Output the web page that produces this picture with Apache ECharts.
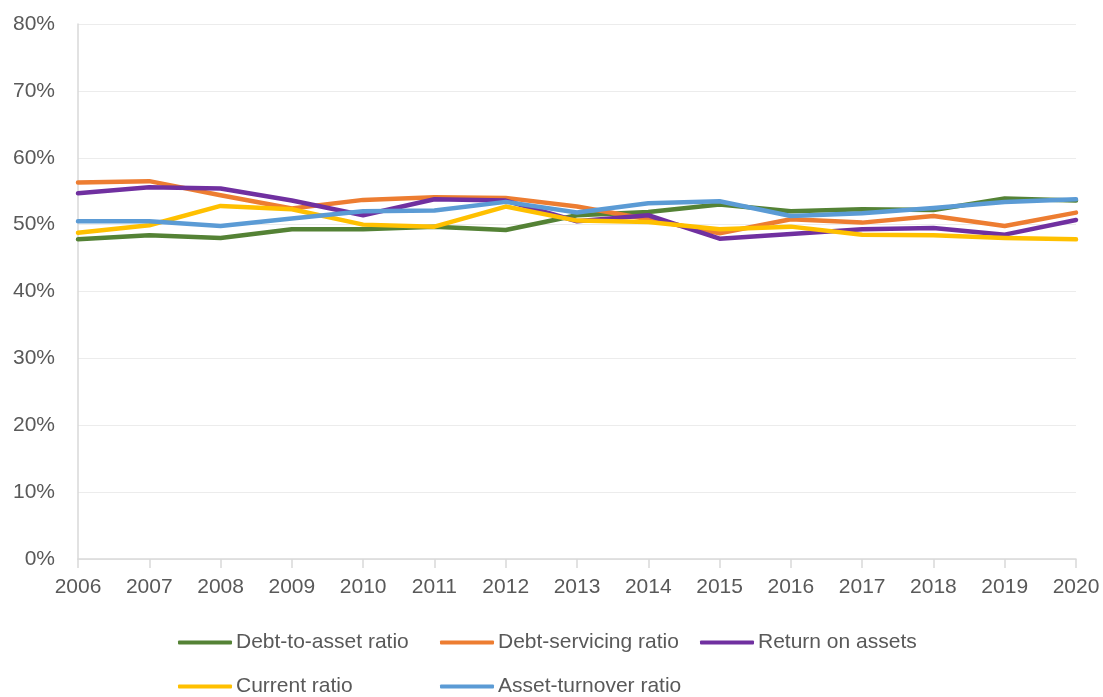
<!DOCTYPE html>
<html>
<head>
<meta charset="utf-8">
<script src="https://cdn.jsdelivr.net/npm/echarts@6/dist/echarts.min.js"></script>
<style>
  html, body { margin: 0; padding: 0; background: #fff; }
  #chart { width: 1103px; height: 697px; }
</style>
</head>
<body>
<div id="chart"></div>
<script>
// Years on the category axis
const years = ['2006','2007','2008','2009','2010','2011','2012','2013','2014','2015','2016','2017','2018','2019','2020'];

// Ratios in percent, one array per series
const debtToAsset    = [47.8, 48.4, 48.0, 49.3, 49.3, 49.7, 49.2, 51.4, 51.9, 53.0, 52.0, 52.3, 52.2, 53.9, 53.6];
const debtServicing  = [56.3, 56.5, 54.4, 52.4, 53.7, 54.1, 54.0, 52.7, 50.8, 48.7, 50.8, 50.3, 51.3, 49.8, 51.8];
const returnOnAssets = [54.7, 55.6, 55.4, 53.6, 51.4, 53.8, 53.6, 50.5, 51.4, 47.9, 48.6, 49.3, 49.5, 48.5, 50.7];
const currentRatio   = [48.8, 49.9, 52.8, 52.3, 50.0, 49.7, 52.7, 50.6, 50.4, 49.3, 49.7, 48.5, 48.4, 48.0, 47.8];
const assetTurnover  = [50.5, 50.5, 49.8, 50.9, 52.0, 52.1, 53.4, 51.8, 53.2, 53.5, 51.3, 51.7, 52.5, 53.4, 53.8];

// Y axis range and tick step, in percent
const yMin = 0, yMax = 80, yStep = 10;

const seriesDefs = [
  { name: 'Debt-to-asset ratio',  data: debtToAsset,    color: '#548235' },
  { name: 'Debt-servicing ratio', data: debtServicing,  color: '#ED7D31' },
  { name: 'Return on assets',     data: returnOnAssets, color: '#7030A0' },
  { name: 'Current ratio',        data: currentRatio,   color: '#FFC000' },
  { name: 'Asset-turnover ratio', data: assetTurnover,  color: '#5B9BD5' }
];

// Legend laid out as a two-row grid with fixed columns
const legendSlots = [
  { left: 178, top: 632 },
  { left: 440, top: 632 },
  { left: 700, top: 632 },
  { left: 178, top: 676 },
  { left: 440, top: 676 }
];

const font = '"Liberation Sans", "DejaVu Sans", sans-serif';
const textColor = '#595959';

const chart = echarts.init(document.getElementById('chart'), null, { renderer: 'canvas' });

chart.setOption({
  animation: false,
  backgroundColor: '#ffffff',
  grid: { left: 78, right: 27, top: 24, bottom: 138, containLabel: false },
  legend: seriesDefs.map((s, i) => ({
    data: [s.name],
    left: legendSlots[i].left,
    top: legendSlots[i].top,
    icon: 'roundRect',
    itemWidth: 54,
    itemHeight: 4,
    itemGap: 4,
    padding: 0,
    textStyle: { color: textColor, fontSize: 21, fontFamily: font, padding: [0, 0, 0, -1] }
  })),
  xAxis: {
    type: 'category',
    data: years,
    boundaryGap: false,
    axisLine: { show: true, lineStyle: { color: '#d9d9d9', width: 1.5 } },
    axisTick: { show: true, length: 9, alignWithLabel: true, lineStyle: { color: '#d9d9d9', width: 1.5 } },
    axisLabel: { color: textColor, fontSize: 21, fontFamily: font, margin: 18 },
    splitLine: { show: false }
  },
  yAxis: {
    type: 'value',
    min: yMin,
    max: yMax,
    interval: yStep,
    axisLine: { show: true, lineStyle: { color: '#d9d9d9', width: 1.5 } },
    axisTick: { show: false },
    axisLabel: { color: textColor, fontSize: 21, fontFamily: font, margin: 23, formatter: '{value}%' },
    splitLine: { show: true, lineStyle: { color: '#ececec', width: 1 } }
  },
  series: seriesDefs.map(s => ({
    name: s.name,
    type: 'line',
    data: s.data,
    showSymbol: false,
    symbol: 'none',
    color: s.color,
    lineStyle: { color: s.color, width: 4.5, cap: 'round', join: 'round' },
    itemStyle: { color: s.color }
  }))
});
</script>
</body>
</html>
